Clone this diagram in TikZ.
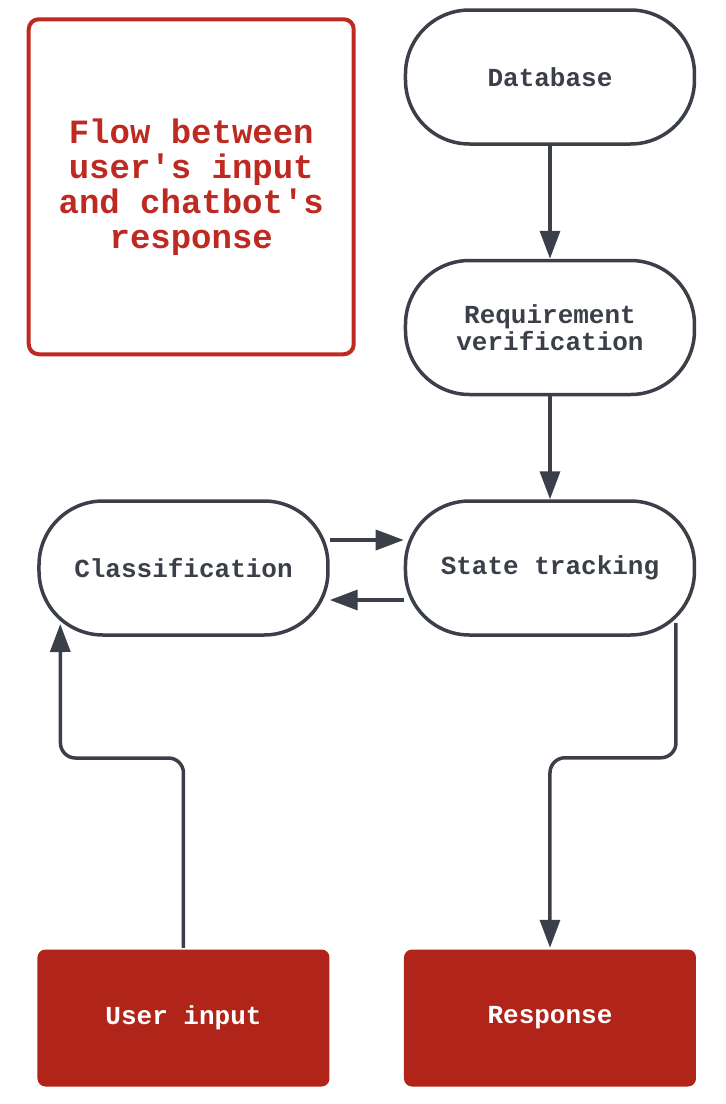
\documentclass[tikz,border=0pt]{standalone}
\usepackage{fontspec}
\setmonofont{Liberation Mono}
\usetikzlibrary{arrows.meta, positioning, calc}
\definecolor{darktext}{RGB}{58, 63, 72}
\definecolor{brickred}{RGB}{176, 36, 26}
\definecolor{titlered}{RGB}{190, 42, 34}

\begin{document}
\begin{tikzpicture}[
    node distance=1cm,
    stadium/.style={rectangle, draw=darktext, line width=3.5pt, rounded corners=64pt,
                minimum width=289pt, minimum height=134pt, align=center, text=darktext,
                font=\ttfamily\bfseries\fontsize{26}{27}\selectfont},
    endbox/.style={stadium, draw=none, fill=brickred, rounded corners=8pt, text=white,
                minimum width=292pt, minimum height=137pt},
    arrow/.style={-{Triangle[length=28pt, width=20pt]}, line width=3.5pt, darktext}
]
\useasboundingbox (-550pt,77pt) rectangle (176pt,-1027pt);

% Right column
\node[stadium] (db) at (0,0) {Database};
\node[stadium, below=113pt of db] (req) {Requirement\\verification};
\node[stadium, below=103pt of req] (st) {State tracking};

% Left column
\node[stadium, left=74pt of st] (clf) {Classification};

% Title
\node[rectangle, draw=titlered, line width=4pt, rounded corners=10pt, anchor=north east,
      minimum width=325pt, minimum height=335pt, align=center, text=titlered,
      font=\ttfamily\bfseries\fontsize{34}{35}\selectfont]
      (title) at ($(db.north west)+(-48pt,-9pt)$) {Flow between\\user's input\\and chatbot's\\response};

% Ends
\node[endbox, below=311pt of clf] (ui) {User input};
\node[endbox, below=311pt of st] (resp) {Response};

% Turn points
\coordinate (clfin) at ($(clf.west)+(23pt,-56pt)$);
\coordinate (clfturn) at ($(clf.center)+(-123pt,-190pt)$);
\coordinate (stout) at ($(st.center)+(126pt,-55pt)$);

% Arrows
\draw[arrow] (db) -- (req);
\draw[arrow] (req) -- (st);
\draw[arrow] ([yshift=28pt]clf.east) -- ([yshift=28pt]st.west);
\draw[arrow] ([yshift=-32pt]st.west) -- ([yshift=-32pt]clf.east);

\draw[arrow, rounded corners=15pt] (ui.north) |- (clfturn) -- (clfin);
\draw[arrow, rounded corners=15pt] (stout) |- ($(resp.north)+(0,190pt)$) -- (resp.north);

\end{tikzpicture}
\end{document}
